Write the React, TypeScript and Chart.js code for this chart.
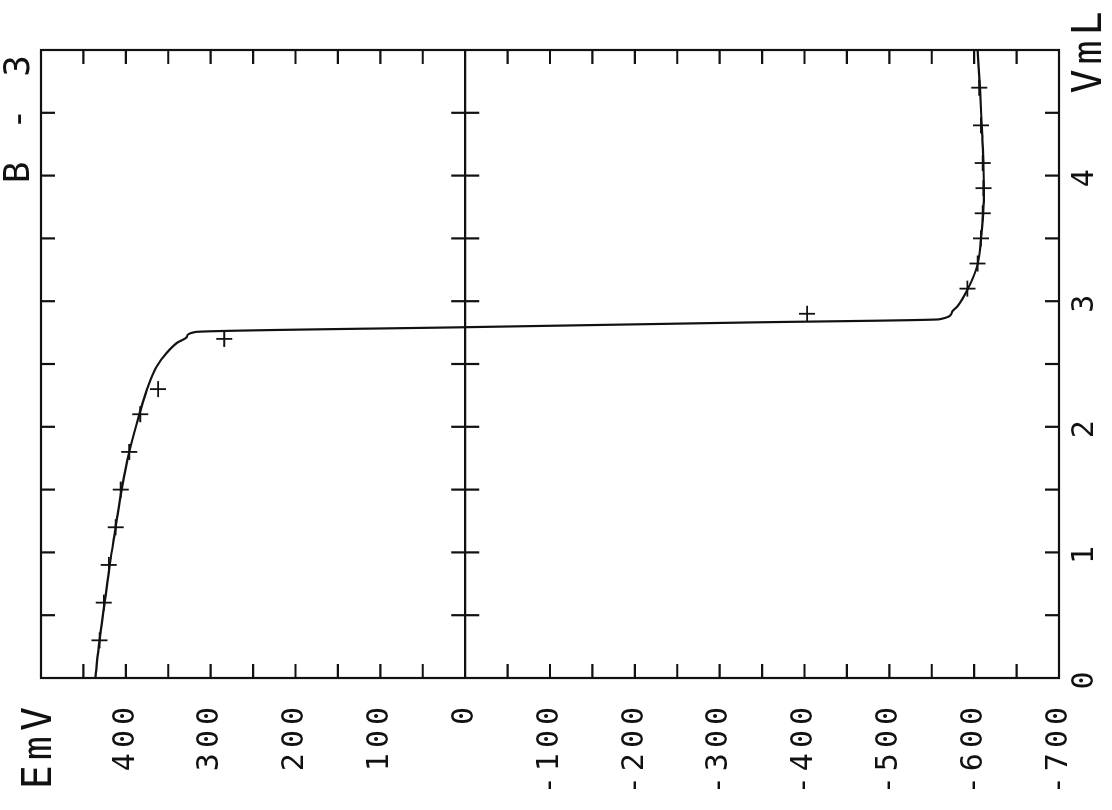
import { useEffect, useRef } from "react";
import { Chart, registerables } from "chart.js";

Chart.register(...registerables);

// Titrant volume (mL) and measured potential (mV) for sample B-3
const volumeMeasured = [0.3, 0.6, 0.9, 1.2, 1.5, 1.8, 2.1, 2.3, 2.7, 2.9, 3.1, 3.3, 3.5, 3.7, 3.9, 4.1, 4.4, 4.7];
const potentialMeasured = [431, 426, 420, 412, 406, 396, 383, 362, 284, -403, -592, -604, -608, -610, -611, -610, -608, -606];

// Fitted titration curve
const volumeFit = [0, 0.3, 0.6, 0.9, 1.2, 1.5, 1.8, 2.1, 2.3, 2.476, 2.588, 2.667, 2.717, 2.755, 2.793, 2.831, 2.856, 2.916, 2.956, 3.09, 3.29, 3.49, 3.69, 3.89, 4.08, 4.38, 4.68, 5.0];
const potentialFit = [436, 431, 425, 419, 412, 405, 396, 384, 375, 364, 352, 340, 328, 318, 0, -336, -559, -574, -580, -592, -604, -608, -610.5, -611.5, -611, -609, -607, -604];

// Axis labels (ascending order of tick values)
const volumeLabels = ["0", "1", "2", "3", "4", "VmL"];
const potentialLabels = ["-700", "-600", "-500", "-400", "-300", "-200", "-100", "0", "100", "200", "300", "400", "EmV"];

// Minor tick positions
const volumeMinorTicks = [0.5, 1, 1.5, 2, 2.5, 3, 3.5, 4, 4.5];
const potentialMinorTicks = [450, 400, 350, 300, 250, 200, 150, 100, 50, 0, -50, -100, -150, -200, -250, -300, -350, -400, -450, -500, -550, -600, -650];

const plotTitle = "B - 3";

const FONT = "'DejaVu Sans Mono', monospace";
const INK = "#111";

const plotterFrame = {
  id: "plotterFrame",
  beforeDraw(chart: any) {
    chart.ctx.letterSpacing = "5px";
  },
  afterDatasetsDraw(chart: any) {
    const { ctx, chartArea, scales } = chart;
    const { left, right, top, bottom } = chartArea;
    const x = scales.x;
    const y = scales.y;
    const len = 14;
    ctx.save();
    ctx.strokeStyle = INK;
    ctx.lineWidth = 2.2;
    ctx.strokeRect(left, top, right - left, bottom - top);
    const y0 = y.getPixelForValue(0);
    ctx.beginPath();
    ctx.moveTo(left, y0);
    ctx.lineTo(right, y0);
    for (const v of volumeMinorTicks) {
      const px = x.getPixelForValue(v);
      ctx.moveTo(px, top);
      ctx.lineTo(px, top + len);
      ctx.moveTo(px, bottom);
      ctx.lineTo(px, bottom - len);
      ctx.moveTo(px, y0 - len);
      ctx.lineTo(px, y0 + len);
    }
    for (const e of potentialMinorTicks) {
      const py = y.getPixelForValue(e);
      ctx.moveTo(left, py);
      ctx.lineTo(left + len, py);
      ctx.moveTo(right, py);
      ctx.lineTo(right - len, py);
    }
    ctx.stroke();

    // sheet label, right-aligned with the plot above its top edge
    ctx.fillStyle = INK;
    ctx.font = `36px ${FONT}`;
    ctx.textAlign = "right";
    ctx.textBaseline = "middle";
    ctx.fillText(plotTitle, right, 20);
    ctx.restore();
  },
};

export default function App() {
  const canvasRef = useRef<HTMLCanvasElement | null>(null);

  useEffect(() => {
    if (!canvasRef.current) return;
    const chart = new Chart(canvasRef.current, {
      type: "scatter",
      data: {
        datasets: [
          {
            label: "fit",
            data: volumeFit.map((v, i) => ({ x: v, y: potentialFit[i] })),
            showLine: true,
            borderColor: INK,
            borderWidth: 2.2,
            pointRadius: 0,
            cubicInterpolationMode: "monotone",
          },
          {
            label: "measured",
            data: volumeMeasured.map((v, i) => ({ x: v, y: potentialMeasured[i] })),
            showLine: false,
            pointStyle: "cross",
            pointRadius: 8,
            borderColor: INK,
            borderWidth: 1.8,
          },
        ],
      },
      options: {
        responsive: false,
        animation: false,
        layout: { padding: { top: 41, right: 50, bottom: 0, left: 0 }, autoPadding: false },
        plugins: {
          legend: { display: false },
          tooltip: { enabled: false },
          title: { display: false },
        },
        scales: {
          x: {
            type: "linear",
            min: 0,
            max: 5,
            grid: { display: false, drawTicks: false },
            border: { display: false },
            ticks: {
              stepSize: 1,
              padding: 8,
              color: INK,
              maxRotation: 0,
              autoSkip: false,
              font: (c: any) => ({ family: FONT, size: c.index === volumeLabels.length - 1 ? 40 : 30 }),
              callback: (_v: any, i: number) => volumeLabels[i],
            },
            afterFit: (s: any) => {
              s.height = 53;
              s.paddingLeft = 0;
              s.paddingRight = 0;
            },
          },
          y: {
            type: "linear",
            min: -700,
            max: 500,
            grid: { display: false, drawTicks: false },
            border: { display: false },
            ticks: {
              stepSize: 100,
              padding: 24,
              color: INK,
              autoSkip: false,
              font: (c: any) => ({ family: FONT, size: c.index === potentialLabels.length - 1 ? 40 : 30 }),
              callback: (_v: any, i: number) => potentialLabels[i],
            },
            afterFit: (s: any) => {
              s.width = 132;
              s.paddingTop = 0;
              s.paddingBottom = 0;
            },
          },
        },
      },
      plugins: [plotterFrame],
    });
    return () => chart.destroy();
  }, []);

  return (
    <div style={{ position: "absolute", left: 0, top: 0, width: 1112, height: 810, overflow: "hidden", background: "#fff" }}>
      <div
        style={{
          position: "absolute",
          left: 151,
          top: -151,
          width: 810,
          height: 1112,
          transform: "rotate(-90deg)",
        }}
      >
        <canvas ref={canvasRef} width={810} height={1112} style={{ width: 810, height: 1112, display: "block" }} />
      </div>
    </div>
  );
}
